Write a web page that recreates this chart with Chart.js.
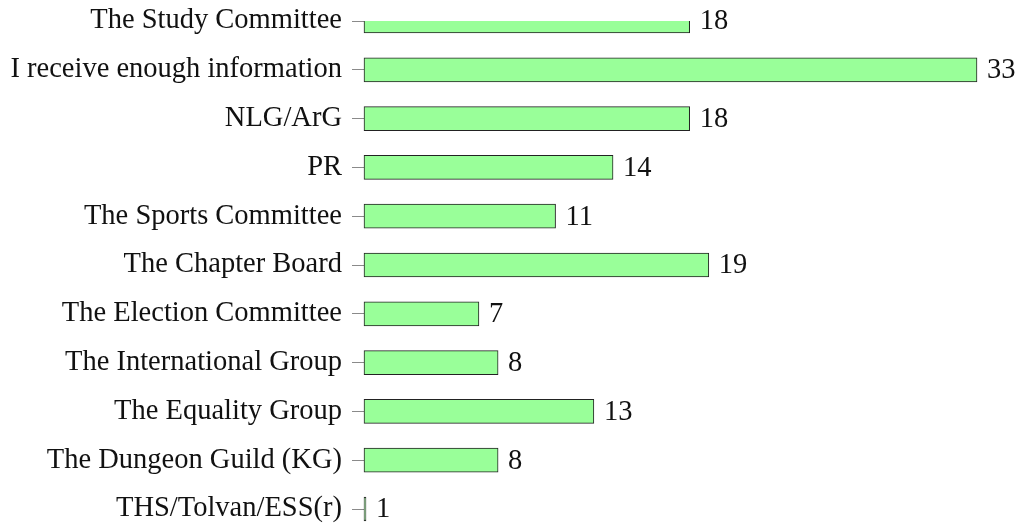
<!DOCTYPE html>
<html>
<head>
<meta charset="utf-8">
<script src="https://cdn.jsdelivr.net/npm/chart.js@4.4.1/dist/chart.umd.min.js"></script>
<style>
  html, body { margin: 0; padding: 0; background: #fff; }
  #wrap { width: 1021px; height: 525px; }
</style>
</head>
<body>
<div id="wrap"><canvas id="committees"></canvas></div>
<script>
// categories top to bottom, and how many answers each got
const categories = [
    "The Study Committee",
    "I receive enough information",
    "NLG/ArG",
    "PR",
    "The Sports Committee",
    "The Chapter Board",
    "The Election Committee",
    "The International Group",
    "The Equality Group",
    "The Dungeon Guild (KG)",
    "THS/Tolvan/ESS(r)"
];
const counts = [18, 33, 18, 14, 11, 19, 7, 8, 13, 8, 1];
const axisMin = 1;
const axisMax = 33;

const labelFont = { family: "'Liberation Serif', 'DejaVu Serif', serif", size: 28.5 };

// writes the count just right of each bar
const valueLabels = {
    id: 'valueLabels',
    afterDatasetsDraw(chart) {
        const ctx = chart.ctx;
        const meta = chart.getDatasetMeta(0);
        ctx.save();
        ctx.fillStyle = '#111';
        ctx.font = labelFont.size + 'px ' + labelFont.family;
        ctx.textAlign = 'left';
        ctx.textBaseline = 'middle';
        meta.data.forEach(function(bar, i){
            ctx.fillText(String(counts[i]), bar.x + 10, bar.y + 1);
        });
        ctx.restore();
    }
};

const committees = document.getElementById("committees").getContext('2d');

new Chart(committees, {
    type: 'bar',
    data: {
        labels: categories,
        datasets: [
            {
                data: counts,
                base: axisMin,
                backgroundColor: '#99ff99',
                borderColor: '#222222',
                borderWidth: 1,
                borderSkipped: false,
                barThickness: 24,
                minBarLength: 2,
                clip: { top: 0, left: false, right: false, bottom: false }
            }
        ]
    },
    options: {
        indexAxis: 'y',
        responsive: true,
        maintainAspectRatio: false,
        animation: false,
        layout: {
            padding: { top: 21, right: 44, bottom: 16, left: 0 }
        },
        scales: {
            x: {
                display: false,
                min: axisMin,
                max: axisMax
            },
            y: {
                offset: false,
                grid: {
                    offset: false,
                    drawOnChartArea: false,
                    drawTicks: true,
                    tickLength: 12,
                    color: '#8a8a8a'
                },
                border: { display: false },
                ticks: {
                    color: '#111',
                    padding: 10,
                    font: labelFont
                },
                afterFit: function(scale) {
                    scale.width = 364;
                    scale.paddingTop = 0;
                    scale.paddingBottom = 0;
                }
            }
        },
        plugins: {
            legend: { display: false },
            tooltip: { enabled: false }
        }
    },
    plugins: [valueLabels]
});
</script>
</body>
</html>
